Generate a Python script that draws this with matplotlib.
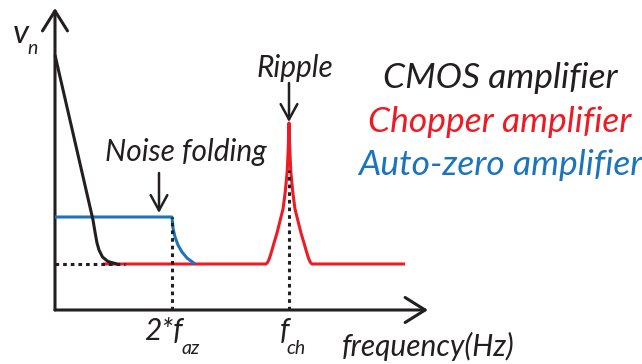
import matplotlib
matplotlib.use("Agg")
import matplotlib.pyplot as plt

# noise spectrum sketch, units: px-like offsets from the axis origin
BLACK = "#231f20"
RED = "#ed1c24"
BLUE = "#1c75bc"

FLOOR = 46
F_AZ2 = 117
F_CH = 234
AZ_LEVEL = 93
RIPPLE_TOP = 187

cmos_f = [0, 38, 40, 42, 44, 47.5, 53, 62]
cmos_v = [255, 90, 78, 67, 60, 53, 48.5, 46]

chop_f = [48, 211, 212.5, 214, 215.5, 217, 219, 222, 225, 228, 230, 231.2, 232.3, 233.2,
          234, 234.8, 235.7, 236.8, 238, 240, 243, 246, 249, 251, 252.5, 254, 255.5, 257, 350]
chop_v = [46, 46, 47.5, 50.5, 55, 60, 67, 77, 89, 101, 116, 128, 140, 161,
          187, 161, 140, 128, 116, 101, 89, 77, 67, 60, 55, 50.5, 47.5, 46, 46]

az_f = [0, 117, 118, 120, 123, 127, 132, 140]
az_v = [93, 93, 82, 73, 65, 58, 52, 46]

legend_labels = ["CMOS amplifier", "Chopper amplifier", "Auto-zero amplifier"]
legend_colors = [BLACK, RED, BLUE]

FONT = "Lato"
LBL = 21.5
SUB = 14

fig = plt.figure(figsize=(6.42, 3.64), dpi=100)
ax = fig.add_axes([0, 0, 1, 1])
ax.set_xlim(-55, 587)
ax.set_ylim(-54, 310)
ax.axis("off")

lw = 2.2
dots = (0, (1.2, 1.3))

# axes with open arrow heads
ax.annotate("", xy=(0, 302), xytext=(0, 0),
            arrowprops=dict(arrowstyle="->,head_length=0.72,head_width=0.45",
                            lw=lw, color=BLACK, shrinkA=0, shrinkB=0, mutation_scale=20))
ax.annotate("", xy=(373, 0), xytext=(0, 0),
            arrowprops=dict(arrowstyle="->,head_length=0.72,head_width=0.45",
                            lw=lw, color=BLACK, shrinkA=0, shrinkB=0, mutation_scale=20))

ax.plot(chop_f, chop_v, color=RED, lw=lw, solid_capstyle="butt", zorder=3)
ax.plot(az_f, az_v, color=BLUE, lw=lw, solid_capstyle="butt", zorder=3)
ax.plot(cmos_f, cmos_v, color=BLACK, lw=lw, solid_capstyle="butt", zorder=4)

# dotted guides
ax.plot([0, 70], [FLOOR, FLOOR], color=BLACK, lw=lw, ls=dots, zorder=5)
ax.plot([F_AZ2, F_AZ2], [0, AZ_LEVEL], color=BLACK, lw=lw, ls=dots, zorder=5)
ax.plot([F_CH, F_CH], [0, 140], color=BLACK, lw=lw, ls=dots, zorder=5)

# annotations
small = "->,head_length=0.55,head_width=0.3"
ax.annotate("", xy=(104, 97), xytext=(104, 137),
            arrowprops=dict(arrowstyle=small, lw=1.8, color=BLACK,
                            shrinkA=0, shrinkB=0, mutation_scale=20))
ax.text(131, 158, "Noise folding", fontsize=LBL, style="italic", family=FONT,
        color=BLACK, ha="center", va="center")
ax.annotate("", xy=(F_CH, RIPPLE_TOP + 1), xytext=(F_CH, 227),
            arrowprops=dict(arrowstyle=small, lw=1.8, color=BLACK,
                            shrinkA=0, shrinkB=0, mutation_scale=20))
ax.text(240, 242, "Ripple", fontsize=LBL, style="italic", family=FONT,
        color=BLACK, ha="center", va="center")

# axis labels
ax.text(-34, 276, "v", fontsize=24, style="italic", family=FONT, color=BLACK,
        ha="center", va="center")
ax.text(-22, 261, "n", fontsize=SUB, style="italic", family=FONT, color=BLACK,
        ha="center", va="center")
ax.text(128, -21, "2*f", fontsize=LBL, style="italic", family=FONT, color=BLACK,
        ha="right", va="center")
ax.text(127, -38, "az", fontsize=SUB, style="italic", family=FONT, color=BLACK,
        ha="left", va="center")
ax.text(234, -21, "f", fontsize=LBL, style="italic", family=FONT, color=BLACK,
        ha="right", va="center")
ax.text(231, -38, "ch", fontsize=SUB, style="italic", family=FONT, color=BLACK,
        ha="left", va="center")
ax.text(373, -36, "frequency(Hz)", fontsize=LBL, style="italic", family=FONT,
        color=BLACK, ha="center", va="center")

# legend as coloured text
for lab, col, yy in zip(legend_labels, legend_colors, [232, 188, 145]):
    ax.text(445, yy, lab, fontsize=25.5, style="italic", family=FONT, color=col,
            ha="center", va="center")

fig.savefig("out.png", dpi=100)
